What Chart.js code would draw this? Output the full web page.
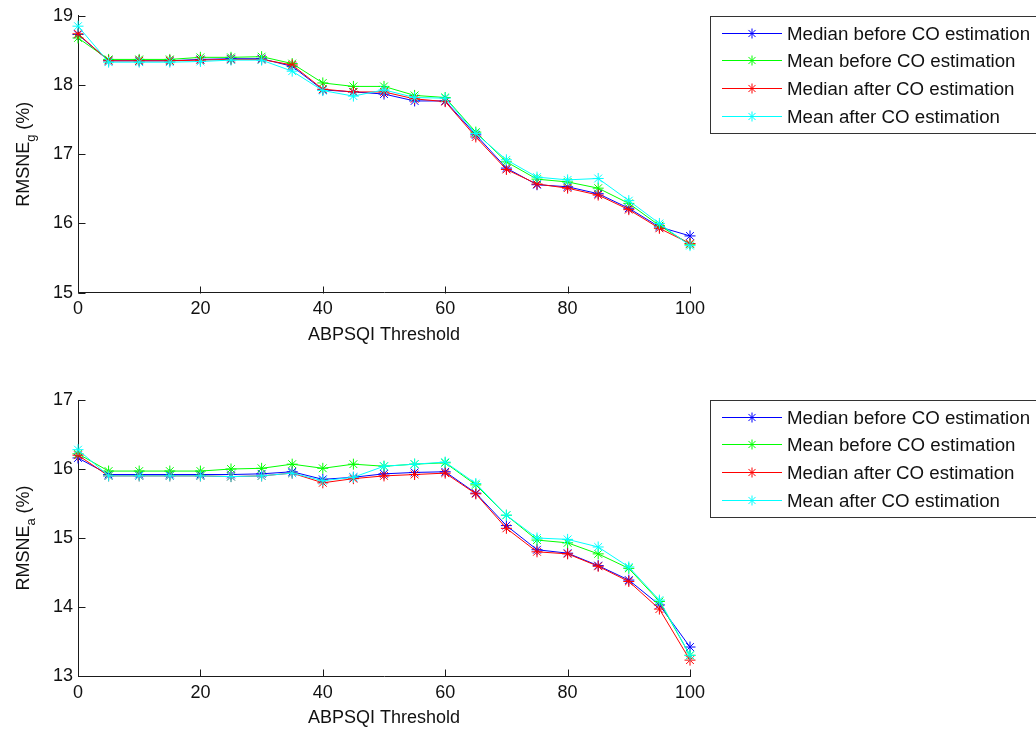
<!DOCTYPE html>
<html>
<head>
<meta charset="utf-8">
<script src="https://cdn.jsdelivr.net/npm/chart.js@4.4.0/dist/chart.umd.min.js"></script>
<style>
  body { margin: 0; background: #fff; }
  #wrap { position: relative; width: 1036px; height: 729px; overflow: hidden; }
  canvas { position: absolute; left: 0; }
</style>
</head>
<body>
<div id="wrap">
  <canvas id="chartG" width="1036" height="380" style="top:0px"></canvas>
  <canvas id="chartA" width="1036" height="349" style="top:380px"></canvas>
</div>
<script>
// ABPSQI threshold values (x axis)
const thresholds = [0, 5, 10, 15, 20, 25, 30, 35, 40, 45, 50, 55, 60, 65, 70, 75, 80, 85, 90, 95, 100];

const seriesNames = ['Median before CO estimation', 'Mean before CO estimation', 'Median after CO estimation', 'Mean after CO estimation'];

// top panel, RMSNE_g (%)
const medBeforeG = [18.73, 18.35, 18.35, 18.35, 18.37, 18.38, 18.38, 18.27, 17.93, 17.90, 17.87, 17.77, 17.77, 17.28, 16.80, 16.56, 16.53, 16.43, 16.22, 15.95, 15.82];
const meanBeforeG = [18.68, 18.37, 18.37, 18.37, 18.40, 18.40, 18.41, 18.31, 18.03, 17.98, 17.98, 17.85, 17.82, 17.32, 16.89, 16.64, 16.60, 16.51, 16.29, 15.97, 15.70];
const medAfterG = [18.74, 18.35, 18.35, 18.35, 18.36, 18.37, 18.37, 18.29, 17.94, 17.90, 17.90, 17.80, 17.76, 17.25, 16.78, 16.57, 16.51, 16.41, 16.20, 15.93, 15.71];
const meanAfterG = [18.85, 18.33, 18.33, 18.33, 18.34, 18.36, 18.36, 18.20, 17.92, 17.84, 17.93, 17.82, 17.81, 17.30, 16.92, 16.67, 16.63, 16.65, 16.33, 16.00, 15.68];

// bottom panel, RMSNE_a (%)
const medBeforeA = [16.16, 15.92, 15.92, 15.92, 15.92, 15.92, 15.93, 15.96, 15.85, 15.88, 15.93, 15.95, 15.96, 15.65, 15.18, 14.83, 14.78, 14.60, 14.39, 14.03, 13.42];
const meanBeforeA = [16.22, 15.97, 15.97, 15.97, 15.97, 16.00, 16.01, 16.07, 16.01, 16.07, 16.04, 16.07, 16.09, 15.77, 15.33, 14.97, 14.93, 14.77, 14.56, 14.08, 13.30];
const medAfterA = [16.20, 15.90, 15.90, 15.90, 15.90, 15.89, 15.90, 15.94, 15.80, 15.86, 15.90, 15.92, 15.94, 15.64, 15.14, 14.80, 14.77, 14.59, 14.37, 13.97, 13.23];
const meanAfterA = [16.28, 15.90, 15.90, 15.90, 15.90, 15.89, 15.90, 15.94, 15.83, 15.88, 16.04, 16.07, 16.10, 15.79, 15.33, 15.00, 14.98, 14.87, 14.58, 14.10, 13.30];

const colors = ['#0000ff', '#00ff00', '#ff0000', '#00ffff'];
const FONT = "'Liberation Sans', Arial, Helvetica, sans-serif";
const TEXT = '#111';

function drawStar(ctx, x, y, r, color) {
    const d = r * Math.SQRT1_2;
    ctx.strokeStyle = color;
    ctx.lineWidth = 1;
    ctx.beginPath();
    ctx.moveTo(x - r, y); ctx.lineTo(x + r, y);
    ctx.moveTo(x, y - r); ctx.lineTo(x, y + r);
    ctx.moveTo(x - d, y - d); ctx.lineTo(x + d, y + d);
    ctx.moveTo(x - d, y + d); ctx.lineTo(x + d, y - d);
    ctx.stroke();
}

// matlab style axes: inward ticks, axis labels and the legend box
function matlabPlugin(sub) {
    return {
        id: 'matlab',
        beforeDatasetsDraw(chart) {
            const ctx = chart.ctx;
            const a = chart.chartArea;
            const xs = chart.scales.x, ys = chart.scales.y;
            const L = Math.round(a.left) + 0.5;
            const B = Math.round(a.bottom) + 0.5;
            ctx.save();
            ctx.strokeStyle = '#1a1a1a';
            ctx.lineWidth = 1;
            ctx.beginPath();
            xs.ticks.forEach(t => {
                const px = Math.round(xs.getPixelForValue(t.value)) + 0.5;
                ctx.moveTo(px, B); ctx.lineTo(px, B - 7);
            });
            ys.ticks.forEach(t => {
                const py = Math.round(ys.getPixelForValue(t.value)) + 0.5;
                ctx.moveTo(L, py); ctx.lineTo(L + 7, py);
            });
            ctx.stroke();
            ctx.restore();
        },
        afterDraw(chart) {
            const ctx = chart.ctx;
            const a = chart.chartArea;
            ctx.save();
            ctx.fillStyle = TEXT;

            // x title
            ctx.font = '18px ' + FONT;
            ctx.textAlign = 'center';
            ctx.textBaseline = 'middle';
            ctx.fillText('ABPSQI Threshold', (a.left + a.right) / 2, a.bottom + 42);

            // y title with subscript
            ctx.save();
            ctx.translate(29, (a.top + a.bottom) / 2);
            ctx.rotate(-Math.PI / 2);
            ctx.textAlign = 'left';
            ctx.textBaseline = 'alphabetic';
            ctx.font = '18px ' + FONT;
            const w1 = ctx.measureText('RMSNE').width;
            const w3 = ctx.measureText(' (%)').width;
            ctx.font = '13px ' + FONT;
            const w2 = ctx.measureText(sub).width;
            let x = -(w1 + w2 + w3) / 2;
            ctx.font = '18px ' + FONT;
            ctx.fillText('RMSNE', x, 0);
            x += w1;
            ctx.font = '13px ' + FONT;
            ctx.fillText(sub, x, 6);
            x += w2;
            ctx.font = '18px ' + FONT;
            ctx.fillText(' (%)', x, 0);
            ctx.restore();

            // legend
            const top = Math.round(a.top);
            ctx.fillStyle = '#fff';
            ctx.fillRect(711, top + 1, 330, 116);
            ctx.strokeStyle = '#333';
            ctx.lineWidth = 1;
            ctx.strokeRect(710.5, top + 0.5, 340, 117);
            ctx.font = '18.7px ' + FONT;
            ctx.textAlign = 'left';
            ctx.textBaseline = 'middle';
            chart.data.datasets.forEach((ds, i) => {
                const y = Math.round(top + 16.5 + i * 27.7) + 0.5;
                ctx.strokeStyle = ds.borderColor;
                ctx.beginPath();
                ctx.moveTo(722, y); ctx.lineTo(782, y);
                ctx.stroke();
                drawStar(ctx, 752, y, 5, ds.borderColor);
                ctx.fillStyle = TEXT;
                ctx.fillText(ds.label, 787, y + 1);
            });
            ctx.restore();
        }
    };
}

function makeChart(id, series, yMin, yMax, sub, padTop, xHeight) {
    const ctx = document.getElementById(id).getContext('2d');
    return new Chart(ctx, {
        type: 'line',
        data: {
            datasets: series.map((vals, i) => ({
                label: seriesNames[i],
                data: thresholds.map((t, j) => ({ x: t, y: vals[j] })),
                borderColor: colors[i],
                backgroundColor: colors[i],
                borderWidth: 1,
                pointStyle: 'star',
                pointRadius: 5.5,
                pointBorderWidth: 1,
                pointBorderColor: colors[i],
                tension: 0,
                clip: false,
                order: 4 - i
            }))
        },
        options: {
            responsive: false,
            animation: false,
            devicePixelRatio: 1,
            layout: { padding: { top: padTop, right: 346, left: 0, bottom: 0 } },
            plugins: {
                legend: { display: false },
                tooltip: { enabled: false }
            },
            scales: {
                x: {
                    type: 'linear',
                    min: 0,
                    max: 100,
                    afterFit: s => { s.height = xHeight; },
                    ticks: { stepSize: 20, color: TEXT, padding: 6, maxRotation: 0, font: { family: FONT, size: 18 } },
                    grid: { drawOnChartArea: false, drawTicks: false },
                    border: { display: true, color: '#1a1a1a', width: 1 }
                },
                y: {
                    min: yMin,
                    max: yMax,
                    afterFit: s => { s.width = 78; },
                    ticks: { stepSize: 1, color: TEXT, padding: 5, font: { family: FONT, size: 18 } },
                    grid: { drawOnChartArea: false, drawTicks: false },
                    border: { display: true, color: '#1a1a1a', width: 1 }
                }
            }
        },
        plugins: [matlabPlugin(sub)]
    });
}

makeChart('chartG', [medBeforeG, meanBeforeG, medAfterG, meanAfterG], 15, 19, 'g', 15.6, 380 - 292.7);
makeChart('chartA', [medBeforeA, meanBeforeA, medAfterA, meanAfterA], 13, 17, 'a', 20, 349 - 296);
</script>
</body>
</html>
